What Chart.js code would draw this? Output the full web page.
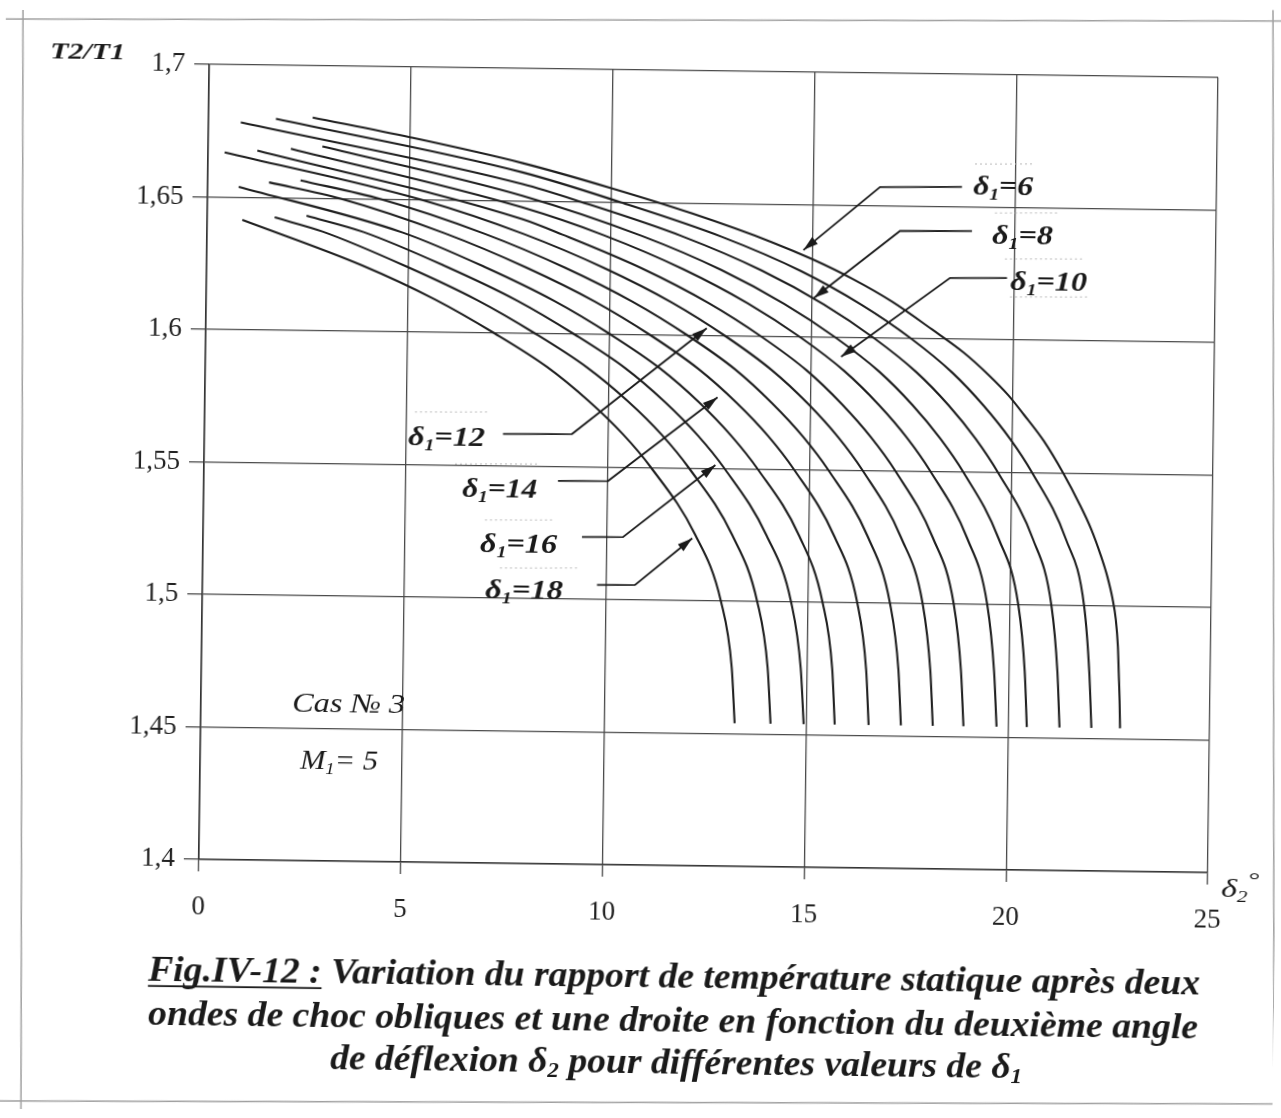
<!DOCTYPE html>
<html><head><meta charset="utf-8">
<script src="https://cdn.jsdelivr.net/npm/chart.js@4.4.1/dist/chart.umd.min.js"></script>
<style>html,body{margin:0;padding:0;background:#fff;overflow:hidden;}
canvas{display:block;transform-origin:708.5px 468.5px;transform:rotate(0.75deg);}
#fl{position:absolute;left:-9999px;top:0;visibility:hidden;}</style>
</head><body>
<div id="fl"><span style="font-family:'Liberation Serif'">a</span><span style="font-family:'Liberation Serif';font-style:italic">a</span><span style="font-family:'Liberation Serif';font-style:italic;font-weight:bold">a</span></div>
<canvas id="c" width="1281" height="1118"></canvas>
<script>
// ---- values: delta2 (deg) and T2/T1 for each delta1 ----
const delta1List = [6,7,8,9,10,11,12,13,14,15,16,17,18];
const d2_6  = [2.58,5.0,7.8,10.0,12.0,14.0,15.0,16.0,17.0,18.0,18.8,19.4,19.9,20.3,20.8,21.29,21.7,22.0,22.25,22.42,22.55,22.64,22.70,22.73,22.76,22.78];
const r_6   = [1.6805,1.6735,1.6643,1.6553,1.6462,1.6357,1.6295,1.6223,1.6138,1.6035,1.5948,1.5868,1.5792,1.5718,1.5620,1.5500,1.5385,1.5290,1.5190,1.5110,1.5030,1.4950,1.4850,1.4750,1.4645,1.4540];
const d2_7  = [1.67,7.8,10.24,12.75,14.72,16.24,17.48,18.50,19.30,19.97,20.52,21.38,21.85,22.00,22.07];
const r_7   = [1.6798,1.6608,1.6500,1.6375,1.6250,1.6125,1.6000,1.5875,1.5750,1.5625,1.5500,1.5250,1.5000,1.4750,1.4540];
const d2_8  = [0.80,7.8,9.25,11.77,13.75,15.30,16.56,17.61,18.43,19.11,19.67,20.56,21.04,21.21,21.28];
const r_8   = [1.6783,1.6564,1.6500,1.6375,1.6250,1.6125,1.6000,1.5875,1.5750,1.5625,1.5500,1.5250,1.5000,1.4750,1.4540];
const d2_9  = [2.83,7.8,10.76,12.75,14.32,15.61,16.69,17.53,18.23,18.81,19.71,20.22,20.40,20.47];
const r_9   = [1.6696,1.6520,1.6375,1.6250,1.6125,1.6000,1.5875,1.5750,1.5625,1.5500,1.5250,1.5000,1.4750,1.4540];
const d2_10 = [2.05,7.8,9.83,11.82,13.42,14.73,15.83,16.69,17.41,18.00,18.93,19.45,19.64,19.72];
const r_10  = [1.6686,1.6476,1.6375,1.6250,1.6125,1.6000,1.5875,1.5750,1.5625,1.5500,1.5250,1.5000,1.4750,1.4540];
const d2_11 = [1.22,7.8,8.81,10.81,12.44,13.77,14.90,15.78,16.52,17.13,18.08,18.62,18.82,18.90];
const r_11  = [1.6677,1.6432,1.6375,1.6250,1.6125,1.6000,1.5875,1.5750,1.5625,1.5500,1.5250,1.5000,1.4750,1.4540];
const d2_12 = [0.41,5.30,7.86,9.87,11.53,12.88,14.03,14.94,15.70,16.32,17.29,17.85,18.06,18.14];
const r_12  = [1.6669,1.6500,1.6375,1.6250,1.6125,1.6000,1.5875,1.5750,1.5625,1.5500,1.5250,1.5000,1.4750,1.4540];
const d2_13 = [2.30,4.30,6.87,8.89,10.57,11.95,13.13,14.05,14.83,15.47,16.47,17.04,17.27,17.35];
const r_13  = [1.6567,1.6500,1.6375,1.6250,1.6125,1.6000,1.5875,1.5750,1.5625,1.5500,1.5250,1.5000,1.4750,1.4540];
const d2_14 = [1.52,3.30,5.88,7.91,9.62,11.02,12.22,13.17,13.97,14.62,15.64,16.23,16.47,16.55];
const r_14  = [1.6558,1.6500,1.6375,1.6250,1.6125,1.6000,1.5875,1.5750,1.5625,1.5500,1.5250,1.5000,1.4750,1.4540];
const d2_15 = [0.77,4.85,6.88,8.62,10.04,11.27,12.24,13.05,13.72,14.77,15.37,15.63,15.71];
const r_15  = [1.6540,1.6375,1.6250,1.6125,1.6000,1.5875,1.5750,1.5625,1.5500,1.5250,1.5000,1.4750,1.4540];
const d2_16 = [2.46,3.88,5.92,7.69,9.13,10.40,11.39,12.22,12.90,13.96,14.59,14.85,14.94];
const r_16  = [1.6434,1.6375,1.6250,1.6125,1.6000,1.5875,1.5750,1.5625,1.5500,1.5250,1.5000,1.4750,1.4540];
const d2_17 = [1.67,2.86,4.91,6.70,8.17,9.46,10.48,11.33,12.02,13.11,13.75,14.03,14.12];
const r_17  = [1.6426,1.6375,1.6250,1.6125,1.6000,1.5875,1.5750,1.5625,1.5500,1.5250,1.5000,1.4750,1.4540];
const d2_18 = [0.87,3.84,5.66,7.15,8.47,9.50,10.37,11.08,12.19,12.85,13.14,13.23];
const r_18  = [1.6415,1.6250,1.6125,1.6000,1.5875,1.5750,1.5625,1.5500,1.5250,1.5000,1.4750,1.4540];

const xTicks = [0,5,10,15,20,25];
const xTickLabels = ['0','5','10','15','20','25'];
const yTicks = [1.4,1.45,1.5,1.55,1.6,1.65,1.7];
const yTickLabels = ['1,4','1,45','1,5','1,55','1,6','1,65','1,7'];

// labelled curves and where their arrows touch (delta2, T2/T1)
const labelD1  = [6,8,10,12,14,16,18];
const tipD2    = [14.78,15.06,15.75,12.41,12.70,12.67,12.12];
const tipRatio = [1.6329,1.6149,1.5928,1.6029,1.5769,1.5513,1.5236];

const seriesX = {6:d2_6,7:d2_7,8:d2_8,9:d2_9,10:d2_10,11:d2_11,12:d2_12,13:d2_13,14:d2_14,15:d2_15,16:d2_16,17:d2_17,18:d2_18};
const seriesY = {6:r_6,7:r_7,8:r_8,9:r_9,10:r_10,11:r_11,12:r_12,13:r_13,14:r_14,15:r_15,16:r_16,17:r_17,18:r_18};

let FONT = '"Liberation Serif", "Times New Roman", serif';

// the page is tilted like the scanned figure; positions measured on the scan are mapped back
const TH = 0.75 * Math.PI / 180, CX = 708.5, CY = 468.5;
function U(x, y) {
  const dx = x - CX, dy = y - CY, c = Math.cos(TH), s = Math.sin(TH);
  return [CX + dx*c + dy*s, CY - dx*s + dy*c];
}

function hasFont(name) {
  const c = document.createElement('canvas').getContext('2d');
  const s = 'abcdefghijklmnopqrstuvwxyzABCDEFGHIJKLMNOPQRSTUVWXYZ0123456789';
  c.font = '40px monospace'; const w0 = c.measureText(s).width;
  c.font = '40px "' + name + '", monospace'; const w1 = c.measureText(s).width;
  return Math.abs(w0 - w1) > 0.5;
}

function rich(ctx, segs, x, yBase, targetW) {
  const p = U(x, yBase);
  let w = 0;
  segs.forEach(s => { ctx.font = (s.st || 'bold italic') + ' ' + s.sz + 'px ' + FONT; s.w = ctx.measureText(s.t).width; w += s.w; });
  const sx = targetW ? targetW / w : 1;
  ctx.save();
  ctx.translate(p[0], p[1]); ctx.scale(sx, 1);
  ctx.textBaseline = 'alphabetic'; ctx.textAlign = 'left';
  let cx = 0;
  segs.forEach(s => {
    ctx.font = (s.st || 'bold italic') + ' ' + s.sz + 'px ' + FONT;
    ctx.fillStyle = s.c || '#1a1a1a';
    ctx.fillText(s.t, cx, s.dy || 0);
    if (s.u) { ctx.fillRect(cx, 4, s.w, 1.8); }
    cx += s.w;
  });
  ctx.restore();
}
function d1Label(n) { return [{t:'δ', sz:28}, {t:'1', sz:17, dy:5}, {t:'=' + n, sz:28}]; }
function seg(ctx, a, b) {
  const p = U(a[0], a[1]), q = U(b[0], b[1]);
  ctx.beginPath(); ctx.moveTo(p[0], p[1]); ctx.lineTo(q[0], q[1]); ctx.stroke();
}
function dotted(ctx, x1, x2, y) {
  ctx.save(); ctx.strokeStyle = '#b8b8b8'; ctx.lineWidth = 1; ctx.setLineDash([2,3]);
  seg(ctx, [x1, y], [x2, y]); ctx.restore();
}

// label layout (scan pixels): text left, baseline, width, leader start, leader corner, dotted marks
const labelLayout = [
  {tx:973, tb:194, tw:60, s:[962,187], k:[880,187], dots:[[975,1035,164]]},
  {tx:992, tb:244, tw:61, s:[972,231], k:[900,231], dots:[[995,1058,213]]},
  {tx:1010, tb:290, tw:77, s:[1007,278], k:[950,278], dots:[[1005,1085,259],[1010,1090,297]]},
  {tx:408, tb:445, tw:77, s:[503,434], k:[572,434], dots:[[415,490,412]]},
  {tx:462, tb:497, tw:75, s:[558,481], k:[608,481], dots:[[455,540,464]]},
  {tx:480, tb:552, tw:77, s:[582,537], k:[623,537], dots:[[485,555,520]]},
  {tx:485, tb:598, tw:78, s:[597,585], k:[635,585], dots:[[500,580,568]]}
];

const decor = {
  id: 'decor',
  afterDatasetsDraw(chart) {
    const ctx = chart.ctx, xs = chart.scales.x, ys = chart.scales.y;
    labelD1.forEach((d, i) => {
      const L = labelLayout[i];
      const tx = xs.getPixelForValue(tipD2[i]), ty = ys.getPixelForValue(tipRatio[i]);
      const s0 = U(L.s[0], L.s[1]), k0 = U(L.k[0], L.k[1]);
      ctx.save();
      ctx.strokeStyle = '#1a1a1a'; ctx.lineWidth = 1.8;
      ctx.beginPath(); ctx.moveTo(s0[0], s0[1]); ctx.lineTo(k0[0], k0[1]); ctx.lineTo(tx, ty); ctx.stroke();
      const a = Math.atan2(ty - k0[1], tx - k0[0]);
      const len = 15, hw = 4.5;
      ctx.fillStyle = '#1a1a1a';
      ctx.beginPath();
      ctx.moveTo(tx, ty);
      ctx.lineTo(tx - len*Math.cos(a) + hw*Math.sin(a), ty - len*Math.sin(a) - hw*Math.cos(a));
      ctx.lineTo(tx - len*Math.cos(a) - hw*Math.sin(a), ty - len*Math.sin(a) + hw*Math.cos(a));
      ctx.closePath(); ctx.fill();
      ctx.restore();
      L.dots.forEach(dd => dotted(ctx, dd[0], dd[1], dd[2]));
      rich(ctx, d1Label(d), L.tx, L.tb, L.tw);
    });
  },
  afterDraw(chart) {
    const ctx = chart.ctx;
    ctx.save(); ctx.strokeStyle = '#a0a0a0'; ctx.lineWidth = 1.5;
    seg(ctx, [-20, 19], [1300, 21]);
    seg(ctx, [23, 10], [21, 1110]);
    seg(ctx, [-20, 1101], [1300, 1104]);
    seg(ctx, [1273, 10], [1274, 1110]);
    ctx.restore();
    rich(ctx, [{t:'T2/T1', sz:23}], 50, 58, 75);
    rich(ctx, [{t:'δ', sz:26, st:'italic'}, {t:'2', sz:16, st:'italic', dy:5}, {t:'°', sz:22, st:'italic', dy:-10}], 1221, 897, 38);
    rich(ctx, [{t:'Cas № 3', sz:28, st:'italic'}], 292, 712, 113);
    rich(ctx, [{t:'M', sz:28, st:'italic'}, {t:'1', sz:17, st:'italic', dy:5}, {t:'= 5', sz:28, st:'italic'}], 300, 769, 78);
    rich(ctx, [{t:'Fig.IV-12 :', sz:36, u:true}, {t:' Variation du rapport de température statique après deux', sz:36}], 148, 981, 1052);
    rich(ctx, [{t:'ondes de choc obliques et une droite en fonction du deuxième angle', sz:36}], 148, 1025, 1050);
    rich(ctx, [{t:'de déflexion δ', sz:36}, {t:'2', sz:22, dy:5}, {t:' pour différentes valeurs de δ', sz:36}, {t:'1', sz:22, dy:5}], 330, 1069, 692);
  }
};

function build() {
  const cands = ['Liberation Serif', 'Times New Roman', 'Tinos', 'Nimbus Roman', 'FreeSerif', 'DejaVu Serif'];
  const pick = cands.find(hasFont);
  if (pick) FONT = '"' + pick + '", serif';

  const datasets = delta1List.map(d => ({
    label: 'δ1=' + d,
    data: seriesX[d].map((x, i) => ({x: x, y: seriesY[d][i]})),
    showLine: true, fill: false, pointRadius: 0, pointHoverRadius: 0,
    borderColor: '#1f1f1f', borderWidth: 2.1, cubicInterpolationMode: 'monotone'
  }));

  new Chart(document.getElementById('c'), {
    type: 'scatter',
    data: { datasets: datasets },
    options: {
      responsive: false, animation: false, devicePixelRatio: 1,
      layout: { padding: { top: 71, right: 68, bottom: 0, left: 0 } },
      plugins: { legend: { display: false }, tooltip: { enabled: false } },
      scales: {
        x: {
          type: 'linear', min: 0, max: 25,
          afterBuildTicks: s => { s.ticks = xTicks.map(v => ({value: v})); },
          afterFit: s => { s.height = 1118 - 866; },
          grid: { color: '#4a4a4a', lineWidth: 1.3, tickLength: 12 },
          border: { color: '#333', width: 1.6 },
          ticks: { color: '#222', padding: 20, maxRotation: 0, font: { family: FONT, size: 27 },
                   callback: v => xTickLabels[xTicks.indexOf(v)] }
        },
        y: {
          type: 'linear', min: 1.4, max: 1.7,
          afterBuildTicks: s => { s.ticks = yTicks.map(v => ({value: v})); },
          afterFit: s => { s.width = 204; },
          grid: { color: '#4a4a4a', lineWidth: 1.3, tickLength: 15 },
          border: { color: '#333', width: 1.6 },
          ticks: { color: '#222', padding: 9, font: { family: FONT, size: 27 },
                   callback: v => { const i = yTicks.findIndex(t => Math.abs(t - v) < 1e-6); return i >= 0 ? yTickLabels[i] : ''; } }
        }
      }
    },
    plugins: [decor]
  });
}

const loads = ['27px "Liberation Serif"', 'italic 27px "Liberation Serif"', 'bold italic 27px "Liberation Serif"'].map(f => document.fonts.load(f).catch(() => null));
Promise.all(loads).then(() => document.fonts.ready).then(build, build);
</script>
</body></html>
